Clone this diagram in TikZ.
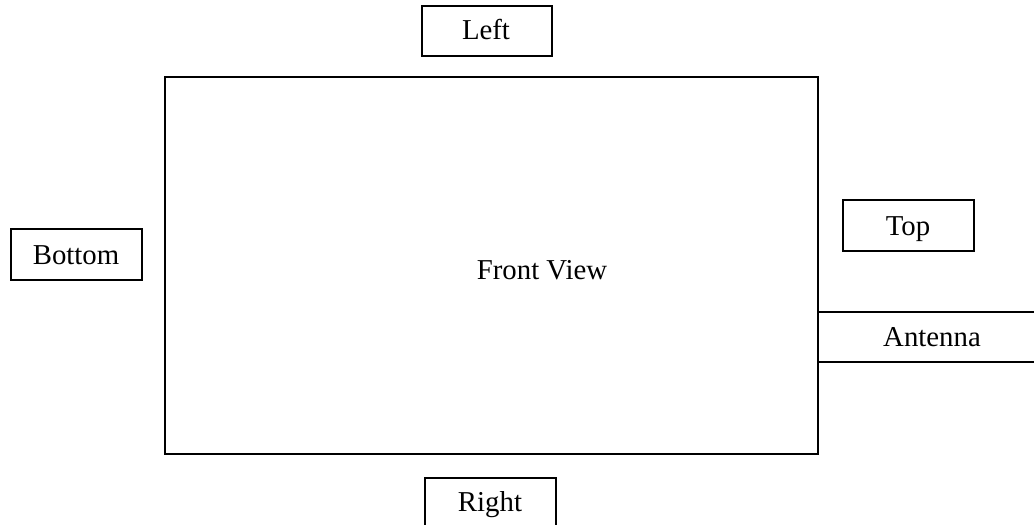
\documentclass[tikz,border=0pt]{standalone}
\usepackage{fontspec}
\setmainfont{Liberation Serif}
\begin{document}
\begin{tikzpicture}[x=1pt,y=-1pt,
  box/.style={draw=black,line width=1.6pt,rectangle,inner sep=0pt,outer sep=0pt},
  lbl/.style={font=\fontsize{28.8}{34}\selectfont,inner sep=0pt,anchor=base}]
\useasboundingbox (0,0) rectangle (1034,525);
\clip (0,0) rectangle (1034,525);
\fill[white] (0,0) rectangle (1034,525);
% main body
\node[box,minimum width=653pt,minimum height=377pt] (main) at (491.5,265.5) {};
\node[lbl] (fronttext) at (542,279) {Front View};
% side boxes
\node[box,minimum width=130pt,minimum height=50pt] (left) at (487,31) {};
\node[lbl] (lefttext) at (486,39.5) {Left};
\node[box,minimum width=131pt,minimum height=51pt] (bottom) at (76.5,254.5) {};
\node[lbl] (bottomtext) at (76,264) {Bottom};
\node[box,minimum width=131pt,minimum height=51pt] (top) at (908.5,225.5) {};
\node[lbl] (toptext) at (908,235) {Top};
\node[box,minimum width=131pt,minimum height=52pt] (right) at (490.5,504) {};
\node[lbl] (righttext) at (490,511.5) {Right};
\node[box,minimum width=230pt,minimum height=50pt,anchor=west] (antenna) at (main.east |- 0,337) {};
\node[lbl] (antennatext) at (932,346.5) {Antenna};
\end{tikzpicture}
\end{document}
